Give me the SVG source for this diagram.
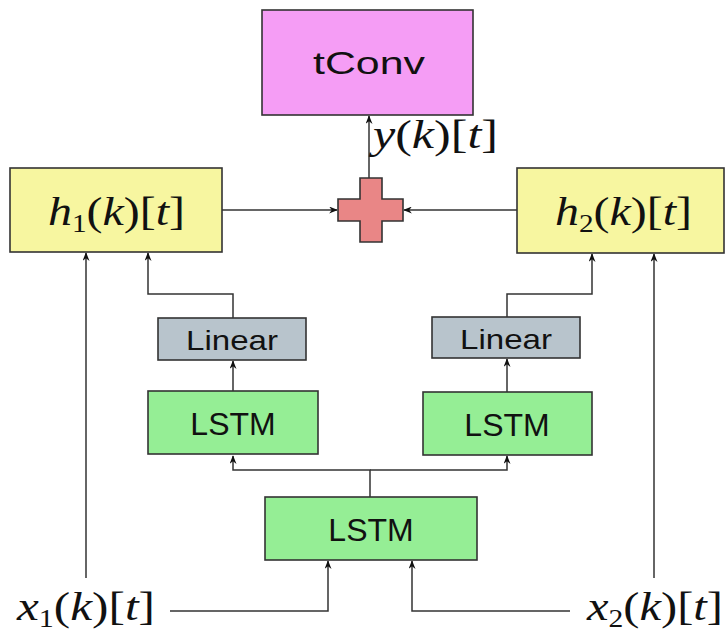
<svg xmlns="http://www.w3.org/2000/svg" width="727" height="632" viewBox="0 0 727 632">
  <style>
    .box { stroke: #333; stroke-width: 1.6; }
    .conv { fill: #f59df5; }
    .hid { fill: #f7f6a0; }
    .lin { fill: #b8c4cc; }
    .lstm { fill: #95ee95; }
    .sum { fill: #e98686; }
    .lbl { font-family: "Liberation Sans", Arial, sans-serif; fill: #111; text-anchor: middle; }
    .math { font-family: "Liberation Serif", "Times New Roman", serif; fill: #111; font-size: 41px; }
    .math .v { font-style: italic; }
    .wire { fill: none; stroke: #333; stroke-width: 1.5; }
  </style>
  <defs>
    <marker id="arr" viewBox="0 0 10 8" refX="9" refY="4" markerWidth="10" markerHeight="7" markerUnits="userSpaceOnUse" orient="auto">
      <path d="M0,0 L10,4 L0,8 L3,4 z" fill="#111"/>
    </marker>
  </defs>

  <rect width="727" height="632" fill="#fff"/>

  <!-- connectors -->
  <g id="connectors" class="wire">
    <path d="M369,178 V116" marker-end="url(#arr)"/>
    <path d="M222,210 H337" marker-end="url(#arr)"/>
    <path d="M517,210 H404" marker-end="url(#arr)"/>
    <path d="M86,578 V253" marker-end="url(#arr)"/>
    <path d="M233,318 V294 H148 V253" marker-end="url(#arr)"/>
    <path d="M233,391 V361" marker-end="url(#arr)"/>
    <path d="M507,317 V294 H592 V254" marker-end="url(#arr)"/>
    <path d="M507,392 V359" marker-end="url(#arr)"/>
    <path d="M370,497 V470 H233 V456" marker-end="url(#arr)"/>
    <path d="M370,470 H507 V456" marker-end="url(#arr)"/>
    <path d="M170,611 H328 V561" marker-end="url(#arr)"/>
    <path d="M570,611 H412 V561" marker-end="url(#arr)"/>
    <path d="M654,578 V254" marker-end="url(#arr)"/>
  </g>

  <!-- transposed convolution -->
  <g id="tconv">
    <rect class="box conv" x="262" y="10" width="211" height="105"/>
    <text class="lbl" x="369" y="74" font-size="32" textLength="112" lengthAdjust="spacingAndGlyphs">tConv</text>
  </g>

  <!-- output label -->
  <g id="y-label">
    <text class="math" x="373" y="148" textLength="125" lengthAdjust="spacingAndGlyphs"><tspan class="v">y</tspan>(<tspan class="v">k</tspan>)[<tspan class="v">t</tspan>]</text>
  </g>

  <!-- summation -->
  <g id="sum">
    <path class="box sum" d="M360,178 H382 V199 H403 V221 H382 V242 H360 V221 H338 V199 H360 Z"/>
  </g>

  <!-- hidden states -->
  <g id="h1">
    <rect class="box hid" x="10" y="168" width="212" height="84"/>
    <text class="math" x="48" y="225" textLength="137" lengthAdjust="spacingAndGlyphs"><tspan class="v">h</tspan><tspan font-size="25" dy="7">1</tspan><tspan dy="-7">(</tspan><tspan class="v">k</tspan>)[<tspan class="v">t</tspan>]</text>
  </g>
  <g id="h2">
    <rect class="box hid" x="517" y="168" width="207" height="85"/>
    <text class="math" x="555" y="225" textLength="137" lengthAdjust="spacingAndGlyphs"><tspan class="v">h</tspan><tspan font-size="25" dy="7">2</tspan><tspan dy="-7">(</tspan><tspan class="v">k</tspan>)[<tspan class="v">t</tspan>]</text>
  </g>

  <!-- linear layers -->
  <g id="linear1">
    <rect class="box lin" x="158" y="318" width="148" height="42"/>
    <text class="lbl" x="232" y="350" font-size="28" textLength="92" lengthAdjust="spacingAndGlyphs">Linear</text>
  </g>
  <g id="linear2">
    <rect class="box lin" x="432" y="317" width="148" height="41"/>
    <text class="lbl" x="506" y="349" font-size="28" textLength="92" lengthAdjust="spacingAndGlyphs">Linear</text>
  </g>

  <!-- LSTM layers -->
  <g id="lstm1">
    <rect class="box lstm" x="148" y="391" width="170" height="63"/>
    <text class="lbl" x="233" y="435" font-size="32">LSTM</text>
  </g>
  <g id="lstm2">
    <rect class="box lstm" x="423" y="392" width="169" height="63"/>
    <text class="lbl" x="507" y="436" font-size="32">LSTM</text>
  </g>
  <g id="lstm0">
    <rect class="box lstm" x="265" y="497" width="212" height="63"/>
    <text class="lbl" x="371" y="541" font-size="32">LSTM</text>
  </g>

  <!-- inputs -->
  <g id="x1">
    <text class="math" x="17" y="620" textLength="138" lengthAdjust="spacingAndGlyphs"><tspan class="v">x</tspan><tspan font-size="25" dy="7">1</tspan><tspan dy="-7">(</tspan><tspan class="v">k</tspan>)[<tspan class="v">t</tspan>]</text>
  </g>
  <g id="x2">
    <text class="math" x="587" y="620" textLength="136" lengthAdjust="spacingAndGlyphs"><tspan class="v">x</tspan><tspan font-size="25" dy="7">2</tspan><tspan dy="-7">(</tspan><tspan class="v">k</tspan>)[<tspan class="v">t</tspan>]</text>
  </g>
</svg>
